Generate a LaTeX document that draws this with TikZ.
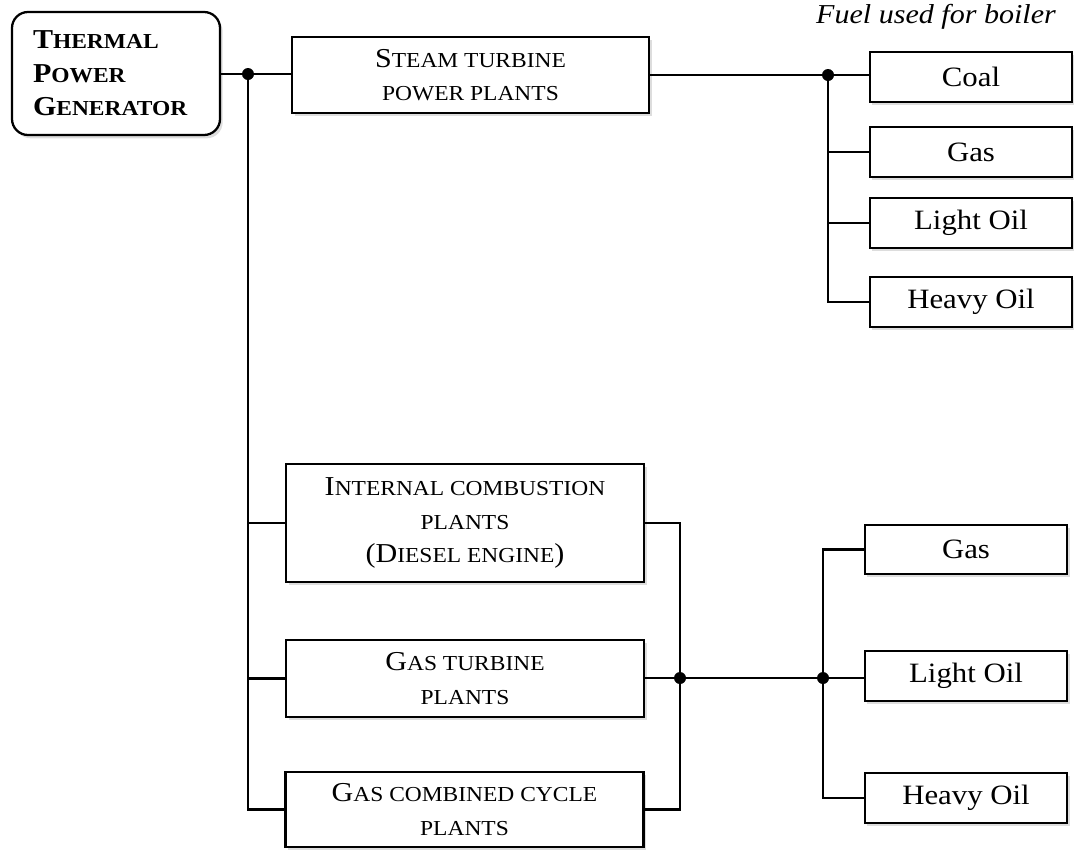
\documentclass[tikz,border=0pt]{standalone}
\usepackage{fontspec}
\setmainfont{Liberation Serif}[FakeStretch=1.1]
\usetikzlibrary{shadows}
% fake small capitals: smaller upper-case letters
\newcommand\smallcap[1]{{\fontsize{16pt}{16pt}\selectfont #1}}
\tikzset{
  boxshadow/.style={drop shadow={shadow xshift=2pt, shadow yshift=-2.5pt, fill=gray!45, opacity=0.6}},
  plantbox/.style={draw, line width=1.7pt, fill=white, boxshadow, align=center,
    inner sep=0pt, font=\fontsize{20.5pt}{25pt}\selectfont},
  fuelbox/.style={draw, line width=1.7pt, fill=white, boxshadow, inner sep=0pt,
    minimum width=152pt, minimum height=37.5pt, font=\fontsize{21pt}{24pt}\selectfont},
  link/.style={line width=2pt},
  junction/.style={circle, fill=black, inner sep=0pt, minimum size=9pt},
}
\begin{document}
\begin{tikzpicture}[x=0.75pt, y=-0.75pt]
\useasboundingbox (0,0) rectangle (1074,851);

% root
\node[draw, line width=1.7pt, rounded corners=12pt, fill=white, boxshadow,
  align=left, text width=124.5pt, inner xsep=15.75pt, inner ysep=0pt,
  minimum height=92.25pt, font=\fontsize{20.5pt}{25pt}\selectfont\bfseries]
  (thermal) at (116,73.5)
  {T\smallcap{HERMAL}\\P\smallcap{OWER}\\G\smallcap{ENERATOR}};

% plant types
\node[plantbox, minimum width=267.75pt, minimum height=57pt] (steam) at (470.5,75)
  {S\smallcap{TEAM TURBINE}\\\smallcap{POWER PLANTS}};
\node[plantbox, minimum width=268.5pt, minimum height=88.5pt] (ic) at (465,523)
  {I\smallcap{NTERNAL COMBUSTION}\\\smallcap{PLANTS}\\(D\smallcap{IESEL ENGINE})};
\node[plantbox, minimum width=268.5pt, minimum height=57.75pt] (gt) at (465,678.5)
  {G\smallcap{AS TURBINE}\\\smallcap{PLANTS}};
\node[plantbox, minimum width=268.5pt, minimum height=56.25pt] (gcc) at (464.5,809.5)
  {G\smallcap{AS COMBINED CYCLE}\\\smallcap{PLANTS}};

% boiler fuels
\node[font=\fontsize{20.5pt}{24pt}\selectfont\itshape, anchor=base, inner sep=0pt]
  (fueltitle) at (936,23) {Fuel used for boiler};
\node[fuelbox] (coal) at (971,77) {Coal};
\node[fuelbox] (gasA) at (971,152) {Gas};
\node[fuelbox] (lightA) at (971,223) {Light Oil};
\node[fuelbox] (heavyA) at (971,302) {Heavy Oil};

% fuels for the other plants
\node[fuelbox, minimum height=36.75pt] (gasB) at (966,549.5) {Gas};
\node[fuelbox] (lightB) at (966,676) {Light Oil};
\node[fuelbox] (heavyB) at (966,798) {Heavy Oil};

% junctions
\node[junction] (jroot) at (248,74) {};
\node[junction] (jsteam) at (828,75) {};
\node[junction] (jplants) at (680,678) {};
\node[junction] (jfuel) at (823,678) {};

% root to plant types
\draw[link] (jroot -| thermal.east) -- (jroot) -- (jroot -| steam.west);
\draw[link] (jroot) |- (gcc.west);
\draw[link] (jroot |- ic.west) -- (ic.west);
\draw[link] (jroot |- gt.west) -- (gt.west);

% steam turbine fuels
\draw[link] (jsteam -| steam.east) -- (jsteam) -- (jsteam -| coal.west);
\draw[link] (jsteam) |- (heavyA.west);
\draw[link] (jsteam |- gasA.west) -- (gasA.west);
\draw[link] (jsteam |- lightA.west) -- (lightA.west);

% other plants to their fuels
\draw[link] (ic.east) -| (jplants) |- (gcc.east);
\draw[link] (jplants -| gt.east) -- (jplants) -- (jfuel) -- (jfuel -| lightB.west);
\draw[link] (gasB.west) -| (jfuel) |- (heavyB.west);
\end{tikzpicture}
\end{document}
